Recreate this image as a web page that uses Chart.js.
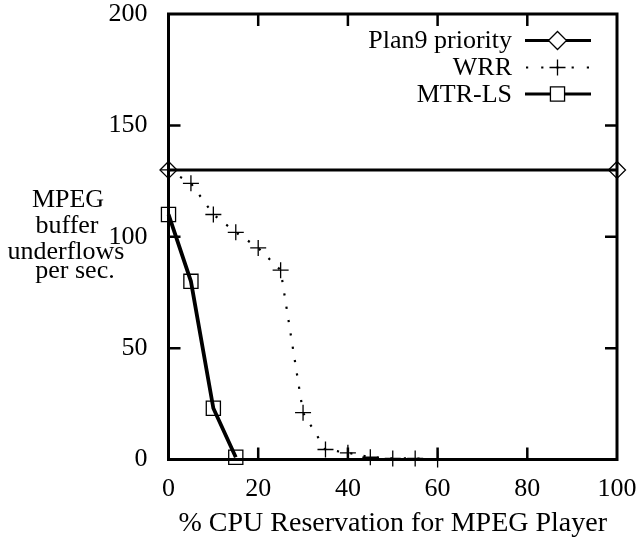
<!DOCTYPE html>
<html><head><meta charset="utf-8">
<script src="https://cdn.jsdelivr.net/npm/chart.js@4.4.1/dist/chart.umd.min.js"></script>
<style>html,body{margin:0;padding:0;background:#fff;} canvas{display:block;}</style>
</head><body>
<canvas id="c" width="636" height="541"></canvas>
<script>
// ---- data ----
const plan9X = [0, 100];
const plan9Y = [130, 130];
const wrrX = [0, 5, 10, 15, 20, 25, 30, 35, 40, 45, 50, 55, 60];
const wrrY = [130, 124, 110, 102, 95, 85, 21, 4.5, 3, 1, 0.5, 0.5, 0];
const mtrX = [0, 5, 10, 15];
const mtrY = [110, 80, 23, 1];
const xTicks = [0, 20, 40, 60, 80, 100];
const yTicks = [0, 50, 100, 150, 200];
const seriesNames = ['Plan9 priority', 'WRR', 'MTR-LS'];
const xTitle = '% CPU Reservation for MPEG Player';
const yTitleLines = ['MPEG', 'buffer', 'underflows', 'per sec.'];

const FONT = '"Liberation Serif", "Times New Roman", serif';
const pts = (xs, ys) => xs.map((x, i) => ({x, y: ys[i]}));

const datasets = [
  {label: seriesNames[0], data: pts(plan9X, plan9Y), borderColor: '#000', borderWidth: 3,
   pointStyle: 'rectRot', pointRadius: 8.5, pointBorderWidth: 1.3, pointBorderColor: '#000',
   pointBackgroundColor: 'rgba(0,0,0,0)', clip: false},
  {label: seriesNames[1], data: pts(wrrX, wrrY), borderColor: '#000', borderWidth: 2.2, borderDash: [2.2, 11.3],
   pointStyle: 'cross', pointRadius: 8, pointBorderWidth: 1.3, pointBorderColor: '#000',
   pointBackgroundColor: 'rgba(0,0,0,0)', clip: false},
  {label: seriesNames[2], data: pts(mtrX, mtrY), borderColor: '#000', borderWidth: 3.8,
   pointStyle: 'rect', pointRadius: 10, pointBorderWidth: 1.3, pointBorderColor: '#000',
   pointBackgroundColor: 'rgba(0,0,0,0)', clip: false}
];

function drawMarker(ctx, style, x, y, r) {
  ctx.save();
  ctx.setLineDash([]);
  ctx.lineWidth = 1.3;
  ctx.strokeStyle = '#000';
  ctx.beginPath();
  if (style === 'rectRot') {
    ctx.moveTo(x - r, y); ctx.lineTo(x, y - r); ctx.lineTo(x + r, y); ctx.lineTo(x, y + r); ctx.closePath();
    ctx.fillStyle = '#fff'; ctx.fill();
  } else if (style === 'cross') {
    ctx.moveTo(x - r, y); ctx.lineTo(x + r, y); ctx.moveTo(x, y - r); ctx.lineTo(x, y + r);
  } else if (style === 'rect') {
    const s = r * Math.SQRT1_2;
    ctx.rect(x - s, y - s, 2 * s, 2 * s);
    ctx.fillStyle = '#fff'; ctx.fill();
  }
  ctx.stroke();
  ctx.restore();
}

const decor = {
  id: 'decor',
  beforeDatasetsDraw(chart) {
    const {ctx, chartArea: a, scales: {x: xs, y: ys}} = chart;
    ctx.save();
    ctx.strokeStyle = '#000';
    ctx.lineWidth = 3;
    ctx.strokeRect(a.left, a.top, a.right - a.left, a.bottom - a.top);
    ctx.lineWidth = 2.5;
    ctx.beginPath();
    xs.ticks.forEach(t => {
      if (t.value === xs.min || t.value === xs.max) return;
      const p = xs.getPixelForValue(t.value);
      ctx.moveTo(p, a.bottom); ctx.lineTo(p, a.bottom - 12);
      ctx.moveTo(p, a.top); ctx.lineTo(p, a.top + 12);
    });
    ys.ticks.forEach(t => {
      if (t.value === ys.min || t.value === ys.max) return;
      const p = ys.getPixelForValue(t.value);
      ctx.moveTo(a.left, p); ctx.lineTo(a.left + 12, p);
      ctx.moveTo(a.right, p); ctx.lineTo(a.right - 12, p);
    });
    ctx.stroke();
    ctx.restore();
  },
  afterDraw(chart) {
    const {ctx} = chart;
    ctx.save();
    // y-axis title (horizontal, stacked lines)
    ctx.fillStyle = '#000';
    ctx.font = '26px ' + FONT;
    ctx.textAlign = 'center';
    ctx.textBaseline = 'alphabetic';
    const yBase = [207, 233, 259, 278];
    const yCx = [68, 67, 66, 75];
    yTitleLines.forEach((s, i) => ctx.fillText(s, yCx[i], yBase[i]));
    // legend
    const rowsY = [40.5, 67.5, 94];
    ctx.textAlign = 'right';
    ctx.textBaseline = 'middle';
    chart.data.datasets.forEach((ds, i) => {
      const yy = rowsY[i];
      ctx.fillStyle = '#000';
      ctx.fillText(ds.label, 512, yy + 1);
      ctx.save();
      ctx.strokeStyle = '#000';
      ctx.lineWidth = ds.borderDash ? ds.borderWidth : 3;
      ctx.setLineDash(ds.borderDash ? [2.2, 13] : []);
      if (ds.borderDash) ctx.lineDashOffset = -1;
      ctx.beginPath(); ctx.moveTo(525, yy); ctx.lineTo(591, yy); ctx.stroke();
      ctx.restore();
      drawMarker(ctx, ds.pointStyle, 557.5, yy, ds.pointStyle === 'rectRot' ? 9 : ds.pointRadius);
    });
    ctx.restore();
  }
};

new Chart(document.getElementById('c'), {
  type: 'line',
  data: {datasets},
  plugins: [decor],
  options: {
    responsive: false,
    animation: false,
    devicePixelRatio: 1,
    layout: {padding: {left: 0, right: 19, top: 14, bottom: 0}},
    plugins: {legend: {display: false}, tooltip: {enabled: false}},
    elements: {line: {tension: 0}},
    scales: {
      x: {
        type: 'linear', min: 0, max: 100,
        afterBuildTicks: s => { s.ticks = xTicks.map(v => ({value: v})); },
        afterFit: s => { s.height = 81.5; s.paddingLeft = 0; s.paddingRight = 0; },
        grid: {display: false}, border: {display: false},
        ticks: {color: '#000', font: {family: FONT, size: 26}, padding: 6, maxRotation: 0, autoSkip: false},
        title: {display: true, text: xTitle, color: '#000', font: {family: FONT, size: 28}, padding: {top: 0, bottom: 1}}
      },
      y: {
        type: 'linear', min: 0, max: 200,
        afterBuildTicks: s => { s.ticks = yTicks.map(v => ({value: v})); },
        afterFit: s => { s.width = 168.5; s.paddingTop = 0; s.paddingBottom = 0; },
        grid: {display: false}, border: {display: false},
        ticks: {color: '#000', font: {family: FONT, size: 26}, padding: 13, autoSkip: false}
      }
    }
  }
});
</script>
</body></html>
